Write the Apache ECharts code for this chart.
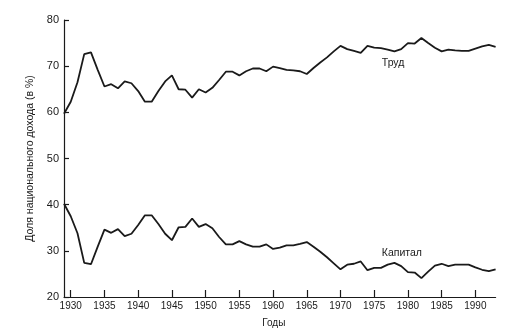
<!DOCTYPE html>
<html>
<head>
<meta charset="utf-8">
<script src="https://cdn.jsdelivr.net/npm/echarts@6/dist/echarts.min.js"></script>
<style>html,body{margin:0;padding:0;background:#fff}#c{width:523px;height:333px}</style>
</head>
<body>
<div id="c"></div>
<script>
const years = [];
for (let y = 1929; y <= 1993; y++) years.push(y);

const labor = [59.7,62.3,66.5,72.6,73.0,69.2,65.6,66.1,65.2,66.7,66.3,64.6,62.3,62.3,64.6,66.7,68.0,65.0,64.9,63.2,
  65.0,64.3,65.3,67.0,68.8,68.8,68.0,68.9,69.5,69.5,68.9,69.9,69.6,69.2,69.1,68.9,68.3,69.6,70.8,71.9,
  73.2,74.4,73.7,73.3,72.9,74.4,74.0,73.9,73.6,73.2,73.7,75.0,74.9,76.1,75.0,74.0,73.2,73.6,73.4,73.3,
  73.3,73.8,74.3,74.6,74.2];

const capital = [40.2,37.5,33.8,27.4,27.1,30.9,34.6,33.9,34.7,33.2,33.7,35.6,37.7,37.7,35.8,33.7,32.3,35.1,35.2,37.0,
  35.2,35.8,34.9,33.0,31.4,31.4,32.1,31.4,30.9,30.9,31.4,30.4,30.7,31.2,31.2,31.5,31.9,30.9,29.8,28.6,
  27.3,26.0,27.0,27.2,27.7,25.8,26.3,26.3,27.0,27.4,26.7,25.4,25.3,24.1,25.5,26.8,27.2,26.7,27.0,27.0,
  27.0,26.4,25.9,25.6,26.0];

const xTicks = [1930,1935,1940,1945,1950,1955,1960,1965,1970,1975,1980,1985,1990];
const yTicks = [20,30,40,50,60,70,80];
const seriesNames = ['Труд', 'Капитал'];
const labelAt = [[1977.8, 70.7], [1979.1, 29.5]];
const xName = 'Годы';
const yName = 'Доля национального дохода (в %)';

const font = 'Liberation Sans, Arial, sans-serif';
const ink = '#1a1a1a';

const chart = echarts.init(document.getElementById('c'), null, {renderer: 'canvas'});
function mk(name, data, lab) {
  return {
    name: name,
    type: 'line',
    data: years.map((y, i) => [y, data[i]]),
    showSymbol: false,
    symbol: 'none',
    lineStyle: {color: ink, width: 1.8},
    animation: false,
    markPoint: {
      symbol: 'circle', symbolSize: 0,
      data: [{coord: lab, value: name}],
      label: {show: true, position: 'inside', formatter: name, color: ink, fontSize: 10.5, fontFamily: font}
    }
  };
}
chart.setOption({
  backgroundColor: '#ffffff',
  animation: false,
  grid: {left: 64, right: 27.4, top: 20, bottom: 28, containLabel: false},
  xAxis: {
    type: 'value', min: 1929, max: 1993,
    name: xName, nameLocation: 'middle', nameGap: 21,
    nameTextStyle: {color: ink, fontSize: 10, fontFamily: font, padding: [0, 12, 0, 0]},
    axisLine: {show: true, lineStyle: {color: ink, width: 1.2}},
    axisTick: {show: true, inside: true, length: 7, customValues: xTicks, lineStyle: {color: ink, width: 1.2}},
    axisLabel: {customValues: xTicks, formatter: v => String(v), color: ink, fontSize: 10, fontFamily: font, margin: 4},
    splitLine: {show: false}
  },
  yAxis: {
    type: 'value', min: 20, max: 80, interval: 10,
    name: yName, nameLocation: 'middle', nameGap: 28, nameRotate: 90,
    nameTextStyle: {color: ink, fontSize: 10.5, fontFamily: font},
    axisLine: {show: true, lineStyle: {color: ink, width: 1.2}},
    axisTick: {show: true, inside: true, length: 5, lineStyle: {color: ink, width: 1.2}},
    axisLabel: {customValues: yTicks, formatter: v => String(v), color: ink, fontSize: 11, fontFamily: font, margin: 5},
    splitLine: {show: false}
  },
  series: [mk(seriesNames[0], labor, labelAt[0]), mk(seriesNames[1], capital, labelAt[1])]
});
</script>
</body>
</html>
